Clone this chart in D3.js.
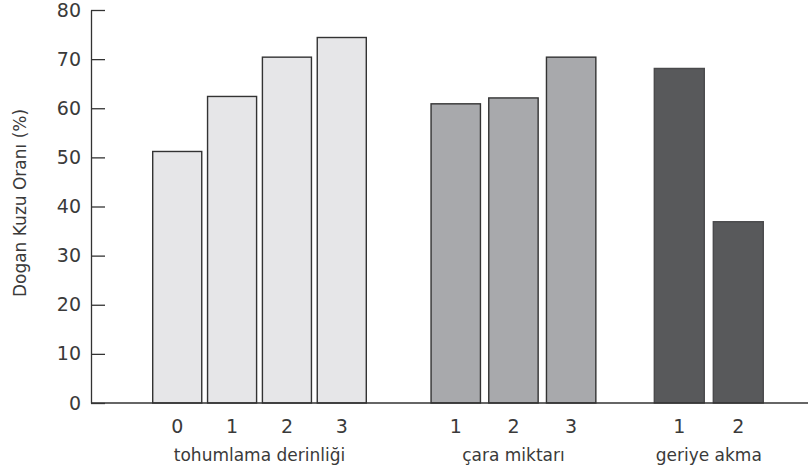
<!DOCTYPE html>
<html>
<head>
<meta charset="utf-8">
<script src="https://cdn.jsdelivr.net/npm/d3@7"></script>
<style>
  html, body { margin: 0; padding: 0; background: #fff; }
  svg { display: block; }
  text { font-family: "DejaVu Sans", sans-serif; fill: #3a3a3a; }
</style>
</head>
<body>
<svg id="chart" width="808" height="470"></svg>
<script>
// ---- data ----
const groupNames = ["tohumlama derinliği", "çara miktarı", "geriye akma"];
const group1Labels = ["0", "1", "2", "3"];
const group1Values = [51.2, 62.4, 70.4, 74.4];
const group2Labels = ["1", "2", "3"];
const group2Values = [60.9, 62.1, 70.4];
const group3Labels = ["1", "2"];
const group3Values = [68.1, 36.9];
const yTicks = [0, 10, 20, 30, 40, 50, 60, 70, 80];
const yTitle = "Dogan Kuzu Oranı (%)";
const groupColors = ["#e6e6e8", "#a8a9ac", "#58595b"];

// ---- layout ----
const svg = d3.select("#chart");
const axisX = 91, baseY = 403, topY = 10;
const y = d3.scaleLinear().domain([0, 80]).range([baseY, topY]);

const groups = [
  { name: groupNames[0], labels: group1Labels, values: group1Values, range: [149.8, 369.2], pad: 0.106 },
  { name: groupNames[1], labels: group2Labels, values: group2Values, range: [426.9, 600.0], pad: 0.144 },
  { name: groupNames[2], labels: group3Labels, values: group3Values, range: [649.8, 767.8], pad: 0.153 }
];

groups.forEach((g, gi) => {
  const x = d3.scaleBand().domain(g.labels).range(g.range)
    .paddingInner(g.pad).paddingOuter(g.pad / 2);
  const data = g.labels.map((l, i) => ({ label: l, value: g.values[i] }));
  const gg = svg.append("g");
  gg.selectAll("rect").data(data).join("rect")
    .attr("x", d => x(d.label))
    .attr("y", d => y(d.value))
    .attr("width", x.bandwidth())
    .attr("height", d => y(0) - y(d.value))
    .attr("fill", groupColors[gi])
    .attr("stroke", gi === 2 ? "#4a4a4c" : "#333")
    .attr("stroke-width", 1.4);

  const ax = d3.axisBottom(x).tickSize(0).tickPadding(0);
  const axG = svg.append("g").attr("transform", `translate(0,${baseY})`).call(ax);
  axG.select(".domain").remove();
  axG.selectAll("text")
    .attr("y", 30).attr("dy", null)
    .style("font-size", "19px").style("font-family", "DejaVu Sans, sans-serif")
    .attr("fill", "#3a3a3a");

  svg.append("text")
    .attr("x", (g.range[0] + g.range[1]) / 2)
    .attr("y", 461)
    .attr("text-anchor", "middle")
    .style("font-size", "17px")
    .text(g.name);
});

// baseline
svg.append("line")
  .attr("x1", axisX).attr("x2", 808)
  .attr("y1", baseY).attr("y2", baseY)
  .attr("stroke", "#333").attr("stroke-width", 1.3);

// y axis
const yAxis = d3.axisLeft(y).tickValues(yTicks).tickSizeInner(-14).tickSizeOuter(0).tickPadding(10);
const yG = svg.append("g").attr("transform", `translate(${axisX},0)`).call(yAxis);
yG.select(".domain").attr("stroke", "#333").attr("stroke-width", 1.3);
yG.selectAll(".tick line").attr("stroke", "#333").attr("stroke-width", 1.3);
yG.selectAll(".tick text")
  .style("font-size", "19px").style("font-family", "DejaVu Sans, sans-serif")
  .attr("fill", "#3a3a3a");

// y title
svg.append("text")
  .attr("transform", `translate(26,${(108 + 298) / 2}) rotate(-90)`)
  .attr("text-anchor", "middle")
  .style("font-size", "17px")
  .text(yTitle);
</script>
</body>
</html>
